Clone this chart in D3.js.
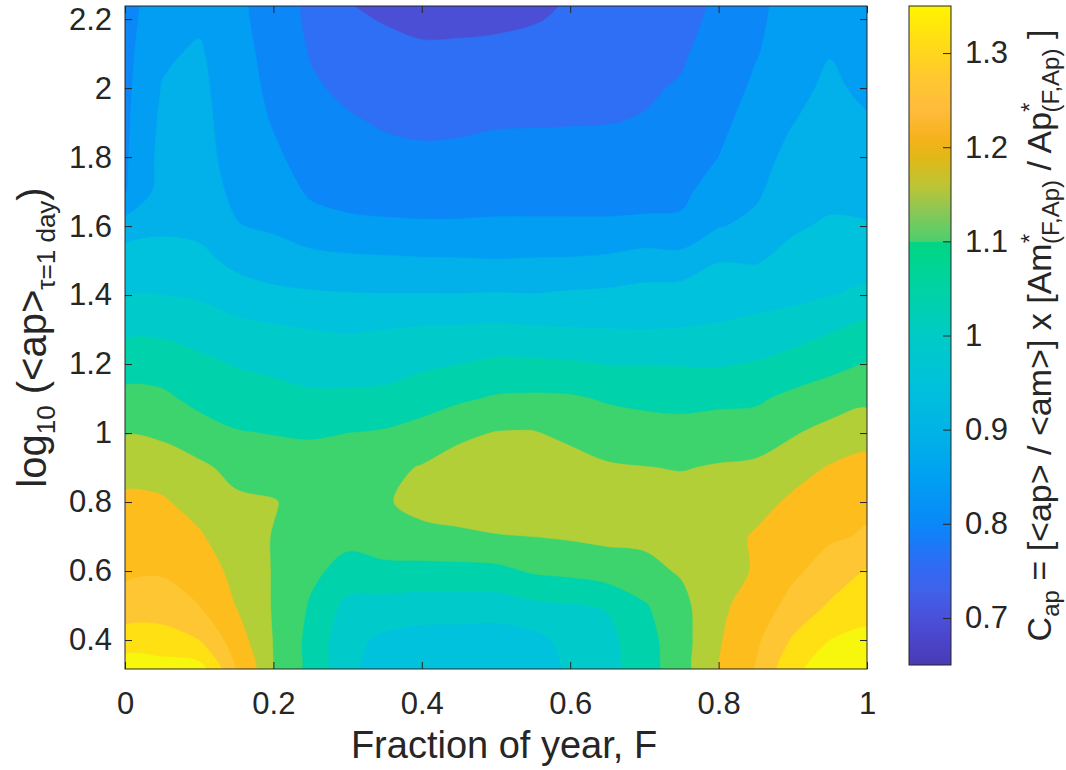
<!DOCTYPE html>
<html>
<head>
<meta charset="utf-8">
<script src="https://cdn.jsdelivr.net/npm/d3@7"></script>
<style>
  body { margin: 0; background: #fff; }
  text { font-family: "Liberation Sans", Arial, sans-serif; fill: #262626; }
</style>
</head>
<body>
<svg id="chart" width="1066" height="770"></svg>
<script>
// grid the contour map is read from //
// --------------------------------------------------------------- //
var fracYear = [0, 0.05, 0.1, 0.15, 0.2, 0.25, 0.3, 0.35, 0.4, 0.45, 0.5,
  0.55, 0.6, 0.65, 0.7, 0.75, 0.8, 0.85, 0.9, 0.95, 1];
var logAp = [0.3, 0.4, 0.5, 0.6, 0.7, 0.8, 0.9, 1.0, 1.1, 1.2, 1.3,
  1.4, 1.5, 1.6, 1.7, 1.8, 1.9, 2.0, 2.1, 2.2, 2.3];

// C_ap, one column per fraction of year, bottom (logAp 0.3) to top (2.3)
var capByF = [
  [1.335, 1.275, 1.217, 1.192, 1.176, 1.159, 1.134, 1.097, 1.064, 1.028, 0.989, 0.948, 0.928, 0.870, 0.797, 0.793, 0.790, 0.788, 0.785, 0.782, 0.780],
  [1.340, 1.262, 1.235, 1.192, 1.170, 1.155, 1.130, 1.090, 1.060, 1.026, 0.990, 0.950, 0.922, 0.890, 0.870, 0.865, 0.860, 0.852, 0.843, 0.832, 0.820],
  [1.330, 1.250, 1.200, 1.178, 1.155, 1.133, 1.109, 1.071, 1.036, 1.011, 0.979, 0.944, 0.915, 0.885, 0.868, 0.866, 0.865, 0.862, 0.856, 0.842, 0.835],
  [1.205, 1.175, 1.148, 1.135, 1.121, 1.108, 1.086, 1.053, 1.025, 0.997, 0.964, 0.926, 0.886, 0.852, 0.842, 0.833, 0.826, 0.820, 0.816, 0.812, 0.808],
  [1.100, 1.098, 1.096, 1.097, 1.098, 1.103, 1.075, 1.048, 1.018, 0.988, 0.957, 0.912, 0.872, 0.843, 0.826, 0.808, 0.797, 0.790, 0.785, 0.778, 0.775],
  [1.030, 1.035, 1.045, 1.060, 1.075, 1.080, 1.070, 1.045, 1.009, 0.979, 0.950, 0.906, 0.866, 0.820, 0.793, 0.781, 0.769, 0.757, 0.747, 0.740, 0.735],
  [0.958, 0.965, 0.985, 1.034, 1.062, 1.070, 1.065, 1.050, 1.010, 0.978, 0.946, 0.903, 0.861, 0.808, 0.787, 0.772, 0.756, 0.740, 0.723, 0.707, 0.695],
  [0.925, 0.940, 0.982, 1.035, 1.080, 1.095, 1.088, 1.055, 1.013, 0.979, 0.950, 0.902, 0.858, 0.806, 0.783, 0.763, 0.745, 0.730, 0.714, 0.697, 0.680],
  [0.915, 0.930, 0.975, 1.034, 1.086, 1.115, 1.103, 1.067, 1.029, 0.991, 0.955, 0.902, 0.855, 0.805, 0.780, 0.759, 0.740, 0.723, 0.707, 0.690, 0.673],
  [0.912, 0.928, 0.976, 1.035, 1.090, 1.125, 1.120, 1.090, 1.042, 0.999, 0.957, 0.902, 0.854, 0.805, 0.781, 0.760, 0.742, 0.725, 0.708, 0.690, 0.670],
  [0.912, 0.925, 0.975, 1.037, 1.097, 1.130, 1.130, 1.102, 1.055, 1.010, 0.960, 0.904, 0.852, 0.806, 0.784, 0.765, 0.746, 0.728, 0.710, 0.692, 0.675],
  [0.925, 0.935, 0.990, 1.055, 1.100, 1.130, 1.130, 1.103, 1.058, 1.009, 0.956, 0.902, 0.854, 0.806, 0.784, 0.765, 0.747, 0.730, 0.714, 0.697, 0.680],
  [0.955, 0.965, 0.996, 1.062, 1.105, 1.125, 1.120, 1.088, 1.056, 1.006, 0.953, 0.907, 0.855, 0.806, 0.784, 0.765, 0.748, 0.735, 0.720, 0.706, 0.698],
  [0.980, 0.985, 1.004, 1.075, 1.110, 1.120, 1.105, 1.076, 1.045, 0.998, 0.951, 0.910, 0.860, 0.806, 0.784, 0.765, 0.749, 0.737, 0.730, 0.720, 0.710],
  [1.025, 1.030, 1.045, 1.086, 1.110, 1.115, 1.101, 1.071, 1.038, 0.998, 0.950, 0.915, 0.873, 0.808, 0.785, 0.769, 0.752, 0.746, 0.743, 0.740, 0.735],
  [1.075, 1.080, 1.085, 1.105, 1.120, 1.115, 1.098, 1.068, 1.035, 0.997, 0.952, 0.921, 0.869, 0.810, 0.788, 0.779, 0.766, 0.753, 0.746, 0.742, 0.740],
  [1.152, 1.145, 1.140, 1.135, 1.130, 1.120, 1.103, 1.079, 1.036, 0.996, 0.956, 0.926, 0.898, 0.847, 0.825, 0.800, 0.788, 0.776, 0.765, 0.756, 0.752],
  [1.205, 1.190, 1.170, 1.153, 1.155, 1.133, 1.110, 1.072, 1.043, 1.003, 0.966, 0.930, 0.896, 0.862, 0.842, 0.831, 0.820, 0.808, 0.797, 0.793, 0.790],
  [1.285, 1.255, 1.217, 1.190, 1.175, 1.158, 1.132, 1.095, 1.061, 1.020, 0.975, 0.938, 0.914, 0.894, 0.879, 0.864, 0.849, 0.835, 0.823, 0.815, 0.810],
  [1.340, 1.300, 1.255, 1.222, 1.193, 1.173, 1.153, 1.118, 1.071, 1.038, 0.995, 0.948, 0.927, 0.906, 0.887, 0.876, 0.868, 0.860, 0.848, 0.840, 0.835],
  [1.345, 1.310, 1.283, 1.253, 1.205, 1.190, 1.165, 1.131, 1.088, 1.052, 1.014, 0.960, 0.929, 0.903, 0.886, 0.871, 0.856, 0.838, 0.825, 0.815, 0.810]
];

var levels = [0.70, 0.75, 0.80, 0.85, 0.90, 0.95, 1.00, 1.05, 1.10, 1.15, 1.20, 1.25, 1.30];
var xTicks = [0, 0.2, 0.4, 0.6, 0.8, 1];
var yTicks = [0.4, 0.6, 0.8, 1, 1.2, 1.4, 1.6, 1.8, 2, 2.2];
var cbTicks = [0.7, 0.8, 0.9, 1, 1.1, 1.2, 1.3];

// fill colour for each band (below first level, then above each level)
var bandColors = ["#4a4fd6", "#2f6ff5", "#0b87f7", "#029ef4", "#02b0ea", "#00c2dd",
  "#00cbca", "#00d3ac", "#3dd46e", "#b3cf37", "#fdbd1c", "#fec632", "#ffe012", "#f7f70e"];

// colorbar
var cbStops = [
  [0.650, "#4a3ab4"], [0.680, "#4a46cc"], [0.700, "#4a50da"], [0.730, "#3f62ea"],
  [0.750, "#3468f2"], [0.780, "#1a7af8"], [0.800, "#0a88f8"], [0.850, "#00a0f2"],
  [0.900, "#00b4e6"], [0.950, "#00c2da"], [1.000, "#00cbc6"], [1.050, "#00d3a4"],
  [1.099, "#00d684"], [1.100, "#4ccf6e"], [1.130, "#86c858"], [1.160, "#bec434"],
  [1.190, "#e2b816"], [1.210, "#f6b21c"], [1.240, "#ffbc3c"], [1.270, "#ffc632"],
  [1.300, "#ffd61c"], [1.350, "#fff400"]
];

// layout
// --------------------------------------------------------------- //
var svg = d3.select("#chart");
var plot = { left: 125, right: 867, top: 6, bottom: 669 };
var bar = { left: 909, right: 951, top: 6, bottom: 665 };
var ink = "#262626";

var x = d3.scaleLinear().domain([0, 1]).range([plot.left, plot.right]);
var y = d3.scaleLinear().domain([0.316, 2.238]).range([plot.bottom, plot.top]);
var cb = d3.scaleLinear().domain([0.65, 1.35]).range([bar.bottom, bar.top]);

// d3.contours puts sample i at i+0.5, so map grid coords back to data
var nx = fracYear.length, ny = logAp.length;
var gx = d3.scaleLinear().domain([0.5, nx - 0.5]).range([fracYear[0], fracYear[nx - 1]]);
var gy = d3.scaleLinear().domain([0.5, ny - 0.5]).range([logAp[0], logAp[ny - 1]]);

var values = [];
for (var j = 0; j < ny; j++) {
  for (var i = 0; i < nx; i++) values.push(capByF[i][j]);
}

var contours = d3.contours().size([nx, ny]).thresholds(levels)(values);

// the grid is coarse, so round the contour rings off a bit
var smooth = d3.line().curve(d3.curveCatmullRomClosed.alpha(0.5));
function bandPath(mp) {
  return mp.coordinates.map(function (poly) {
    return poly.map(function (ring) {
      var pts = ring.slice(0, -1).map(function (p) { return [x(gx(p[0])), y(gy(p[1]))]; });
      return smooth(pts);
    }).join("");
  }).join("");
}

svg.append("clipPath").attr("id", "plotclip")
  .append("rect")
  .attr("x", plot.left).attr("y", plot.top)
  .attr("width", plot.right - plot.left).attr("height", plot.bottom - plot.top);

var g = svg.append("g").attr("clip-path", "url(#plotclip)");
g.append("rect")
  .attr("x", plot.left).attr("y", plot.top)
  .attr("width", plot.right - plot.left).attr("height", plot.bottom - plot.top)
  .attr("fill", bandColors[0]);
g.selectAll("path.band")
  .data(contours)
  .join("path")
  .attr("class", "band")
  .attr("d", bandPath)
  .attr("fill", function (d, k) { return bandColors[k + 1]; })
  .attr("stroke", function (d, k) { return bandColors[k + 1]; })
  .attr("stroke-width", 0.6);

// axes, matlab style ticks pointing in on all four sides
function styleAxis(sel, size) {
  sel.attr("color", ink).attr("font-size", size)
    .attr("font-family", "Liberation Sans, Arial, sans-serif");
  sel.select(".domain").remove();
  sel.selectAll("line").attr("stroke", ink);
}
var fmt = d3.format("~g");

svg.append("g").attr("transform", "translate(0," + plot.bottom + ")")
  .call(d3.axisBottom(x).tickValues(xTicks).tickSize(-7).tickPadding(23).tickFormat(fmt))
  .call(styleAxis, 31);
svg.append("g").attr("transform", "translate(0," + plot.top + ")")
  .call(d3.axisTop(x).tickValues(xTicks).tickSize(-7).tickFormat(""))
  .call(styleAxis, 31);
svg.append("g").attr("transform", "translate(" + plot.left + ",0)")
  .call(d3.axisLeft(y).tickValues(yTicks).tickSize(-7).tickPadding(13).tickFormat(fmt))
  .call(styleAxis, 31);
svg.append("g").attr("transform", "translate(" + plot.right + ",0)")
  .call(d3.axisRight(y).tickValues(yTicks).tickSize(-7).tickFormat(""))
  .call(styleAxis, 31);

svg.append("rect")
  .attr("x", plot.left).attr("y", plot.top)
  .attr("width", plot.right - plot.left).attr("height", plot.bottom - plot.top)
  .attr("fill", "none").attr("stroke", ink).attr("stroke-width", 1);

// colorbar
var grad = svg.append("defs").append("linearGradient")
  .attr("id", "cbgrad").attr("x1", 0).attr("y1", 1).attr("x2", 0).attr("y2", 0);
grad.selectAll("stop")
  .data(cbStops)
  .join("stop")
  .attr("offset", function (d) { return (d[0] - cb.domain()[0]) / (cb.domain()[1] - cb.domain()[0]); })
  .attr("stop-color", function (d) { return d[1]; });

svg.append("rect")
  .attr("x", bar.left).attr("y", bar.top)
  .attr("width", bar.right - bar.left).attr("height", bar.bottom - bar.top)
  .attr("fill", "url(#cbgrad)");
svg.append("g").attr("transform", "translate(" + bar.right + ",0)")
  .call(d3.axisRight(cb).tickValues(cbTicks).tickSize(-8).tickPadding(14).tickFormat(fmt))
  .call(styleAxis, 31);
svg.append("rect")
  .attr("x", bar.left).attr("y", bar.top)
  .attr("width", bar.right - bar.left).attr("height", bar.bottom - bar.top)
  .attr("fill", "none").attr("stroke", ink).attr("stroke-width", 1);

// labels
svg.append("text")
  .attr("x", (plot.left + plot.right) / 2 + 8).attr("y", 758)
  .attr("text-anchor", "middle").attr("font-size", 38)
  .text("Fraction of year, F");

var ylab = svg.append("text")
  .attr("transform", "translate(46," + ((plot.top + plot.bottom) / 2) + ") rotate(-90)")
  .attr("text-anchor", "middle").attr("font-size", 40);
ylab.append("tspan").text("log");
ylab.append("tspan").attr("font-size", 26).attr("dy", 9).text("10");
ylab.append("tspan").attr("dy", -9).text(" (<ap>");
ylab.append("tspan").attr("font-size", 26).attr("dy", 9).text("\u03c4=1 day");
ylab.append("tspan").attr("dy", -9).text(")");

var clab = svg.append("text")
  .attr("transform", "translate(1051," + ((bar.top + bar.bottom) / 2) + ") rotate(-90)")
  .attr("text-anchor", "middle").attr("font-size", 34);
clab.append("tspan").text("C");
clab.append("tspan").attr("font-size", 24).attr("dy", 8).text("ap");
clab.append("tspan").attr("dy", -8).text(" = [<ap> / <am>] x [Am");
clab.append("tspan").attr("font-size", 24).attr("dy", -13).text("*");
clab.append("tspan").attr("font-size", 24).attr("dx", -10).attr("dy", 21).text("(F,Ap)");
clab.append("tspan").attr("dy", -8).text(" / Ap");
clab.append("tspan").attr("font-size", 24).attr("dy", -13).text("*");
clab.append("tspan").attr("font-size", 24).attr("dx", -10).attr("dy", 21).text("(F,Ap)");
clab.append("tspan").attr("dy", -8).text(" ]");
</script>
</body>
</html>
